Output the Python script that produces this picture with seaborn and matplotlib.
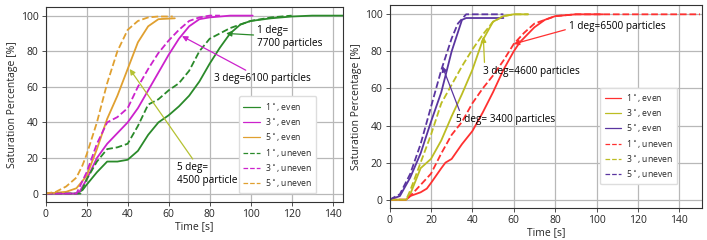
import matplotlib
matplotlib.use("Agg")
import matplotlib.pyplot as plt
import seaborn as sns
import numpy as np

# ---------------- data (left panel) ----------------
l1_even_t = [0, 15, 18, 20, 25, 30, 35, 40, 45, 50, 55, 60, 65, 70, 75, 80, 85, 90, 95, 100, 110, 120, 130, 145]
l1_even_v = [0, 0, 2, 5, 12, 18, 18, 19, 24, 33, 40, 44, 49, 55, 63, 73, 82, 90, 95, 97, 98.5, 99.5, 100, 100]
l3_even_t = [0, 16, 20, 25, 30, 35, 40, 45, 50, 55, 60, 65, 70, 75, 80, 90, 101]
l3_even_v = [0, 0, 8, 20, 28, 34, 40, 48, 58, 68, 78, 87, 94, 98, 99, 100, 100]
l5_even_t = [0, 10, 15, 20, 25, 30, 35, 40, 45, 50, 55, 63]
l5_even_v = [0, 1, 3, 10, 25, 42, 55, 70, 85, 94, 98, 98.5]
l1_uneven_t = [0, 17, 20, 25, 30, 35, 40, 45, 50, 55, 60, 65, 70, 75, 80, 85, 90, 100, 110, 120]
l1_uneven_v = [0, 0, 8, 18, 25, 26, 28, 38, 50, 53, 58, 62, 69, 80, 87, 90, 93, 97, 99, 100]
l3_uneven_t = [0, 15, 20, 25, 30, 35, 40, 45, 50, 55, 60, 65, 70, 75, 80, 85]
l3_uneven_v = [0, 0, 12, 28, 40, 43, 48, 60, 70, 79, 86, 92, 97, 99, 100, 100]
l5_uneven_t = [0, 5, 10, 15, 18, 20, 25, 30, 35, 40, 45, 50, 55, 62]
l5_uneven_v = [0, 1, 4, 9, 16, 22, 40, 62, 80, 92, 97, 99, 99.5, 99.5]

# ---------------- data (right panel) ----------------
r1_even_t = [0, 8, 10, 15, 18, 20, 25, 27, 30, 35, 40, 45, 50, 55, 60, 63, 70, 75, 80, 90, 103]
r1_even_v = [0, 0, 2, 4, 6, 9, 17, 20, 22, 30, 37, 47, 58, 70, 80, 85, 93, 97, 99, 100, 100]
r3_even_t = [0, 8, 10, 15, 20, 25, 30, 35, 40, 45, 50, 55, 60, 67]
r3_even_v = [0, 0, 3, 17, 22, 32, 45, 57, 70, 86, 96, 99, 100, 100]
r5_even_t = [0, 5, 10, 15, 20, 25, 30, 35, 37, 55]
r5_even_v = [0, 2, 12, 25, 42, 58, 80, 97, 98, 98]
r1_uneven_t = [0, 8, 10, 15, 20, 25, 30, 35, 40, 45, 50, 55, 60, 65, 70, 80, 90, 150]
r1_uneven_v = [0, 0, 2, 8, 14, 25, 35, 42, 52, 60, 67, 75, 84, 90, 95, 99, 100, 100]
r3_uneven_t = [0, 8, 10, 15, 20, 25, 30, 35, 40, 45, 50, 55, 60, 67]
r3_uneven_v = [0, 0, 5, 20, 35, 52, 62, 72, 81, 89, 96, 99, 100, 100]
r5_uneven_t = [0, 5, 10, 15, 20, 25, 30, 33, 37, 55]
r5_uneven_v = [0, 3, 14, 30, 50, 70, 87, 95, 100, 100]

labels = ["1$^\\circ$, even", "3$^\\circ$, even", "5$^\\circ$, even",
          "1$^\\circ$, uneven", "3$^\\circ$, uneven", "5$^\\circ$, uneven"]

left_colors = ["#2a8a2a", "#cc22cc", "#e0a030"]
right_colors = ["#ff3030", "#bcbd22", "#5a35a0"]

sns.set_theme(style="whitegrid")
plt.rcParams['font.family'] = ['Open Sans', 'DejaVu Sans']

fig = plt.figure(figsize=(7.07, 2.40), dpi=100)
axL = fig.add_axes([0.0646, 0.16, 0.4204, 0.812])
axR = fig.add_axes([0.551, 0.133, 0.442, 0.846])

left_series = [(l1_even_t, l1_even_v), (l3_even_t, l3_even_v), (l5_even_t, l5_even_v),
               (l1_uneven_t, l1_uneven_v), (l3_uneven_t, l3_uneven_v), (l5_uneven_t, l5_uneven_v)]
right_series = [(r1_even_t, r1_even_v), (r3_even_t, r3_even_v), (r5_even_t, r5_even_v),
                (r1_uneven_t, r1_uneven_v), (r3_uneven_t, r3_uneven_v), (r5_uneven_t, r5_uneven_v)]

for ax, series, colors in [(axL, left_series, left_colors), (axR, right_series, right_colors)]:
    for i, (t, v) in enumerate(series):
        sns.lineplot(x=t, y=v, ax=ax, color=colors[i % 3],
                     linestyle="-" if i < 3 else "--", linewidth=1.3,
                     label=labels[i])

for ax in (axL, axR):
    ax.set_ylim(-4.5, 105)
    ax.set_xticks(np.arange(0, 141, 20))
    ax.set_yticks(np.arange(0, 101, 20))
    ax.grid(True, color="#b8b8b8", linewidth=0.9)
    ax.tick_params(labelsize=7.5, length=3, width=0.6, color="#333333",
                   bottom=True, left=True, pad=2)
    for s in ax.spines.values():
        s.set_color("#333333")
        s.set_linewidth(0.8)
    ax.set_xlabel("Time [s]", fontsize=7.5, labelpad=1)
    ax.set_ylabel("Saturation Percentage [%]", fontsize=7.5, labelpad=2)

axL.set_xlim(0, 145)
axR.set_xlim(0, 151)

leg_kw = dict(fontsize=6.2, handlelength=1.9, labelspacing=0.38, borderpad=0.5,
              framealpha=1, edgecolor="#dddddd", fancybox=True, handletextpad=0.6)
legL = axL.legend(loc="lower right", bbox_to_anchor=(0.925, 0.02), **leg_kw)
legR = axR.legend(loc="lower right", bbox_to_anchor=(0.935, 0.095), **leg_kw)
for leg in (legL, legR):
    for ln in leg.get_lines():
        ln.set_linewidth(0.9)

ann_fs = 7.2
axL.annotate("1 deg=\n7700 particles", xy=(88, 90), xytext=(103, 83),
             fontsize=ann_fs, color="black",
             arrowprops=dict(arrowstyle="-|>", color=left_colors[0], lw=0.9, shrinkA=0, shrinkB=0,
                             mutation_scale=8))
axL.annotate("3 deg=6100 particles", xy=(66.5, 88.5), xytext=(82, 63),
             fontsize=ann_fs, color="black",
             arrowprops=dict(arrowstyle="-|>", color=left_colors[1], lw=0.9, shrinkA=0, shrinkB=0,
                             mutation_scale=8))
axL.annotate("5 deg=\n4500 particle", xy=(41, 70), xytext=(64, 6),
             fontsize=ann_fs, color="black",
             arrowprops=dict(arrowstyle="-|>", color="#b5c232", lw=0.9, shrinkA=0, shrinkB=0,
                             mutation_scale=8, relpos=(0.3, 1.0)))

axR.annotate("1 deg=6500 particles", xy=(60, 84), xytext=(86.5, 92),
             fontsize=ann_fs, color="black",
             arrowprops=dict(arrowstyle="-|>", color=right_colors[0], lw=0.9, shrinkA=0, shrinkB=0,
                             mutation_scale=8, relpos=(0, 0.3)))
axR.annotate("3 deg=4600 particles", xy=(45.3, 88), xytext=(45, 68),
             fontsize=ann_fs, color="black",
             arrowprops=dict(arrowstyle="-|>", color=right_colors[1], lw=0.9, shrinkA=0, shrinkB=0,
                             mutation_scale=8, relpos=(0.02, 1.0)))
axR.annotate("5 deg= 3400 particles", xy=(25.5, 72), xytext=(32, 42),
             fontsize=ann_fs, color="black",
             arrowprops=dict(arrowstyle="-|>", color=right_colors[2], lw=0.9, shrinkA=0, shrinkB=0,
                             mutation_scale=8, relpos=(0.08, 0.3)))

fig.savefig("out.png", dpi=100)
